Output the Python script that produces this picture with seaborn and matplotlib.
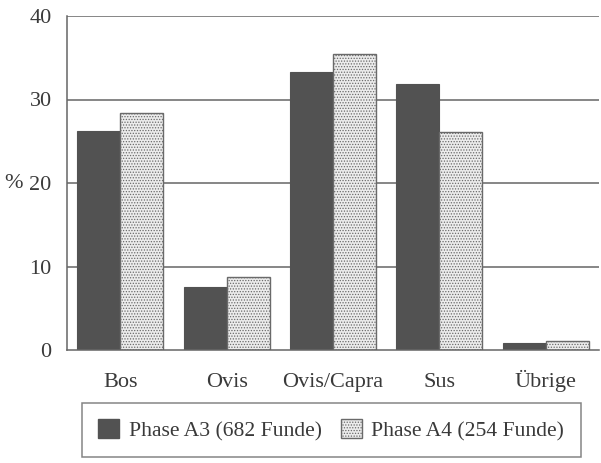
import matplotlib
matplotlib.use("Agg")
import matplotlib.pyplot as plt
import matplotlib.patches as mpatches
from matplotlib.ticker import FixedLocator
import seaborn as sns
import pandas as pd

categories = ["Bos", "Ovis", "Ovis/Capra", "Sus", "Übrige"]
phase_a3 = [26.2, 7.5, 33.3, 31.9, 0.85]
phase_a4 = [28.4, 8.7, 35.4, 26.1, 1.1]
series_names = ["Phase A3 (682 Funde)", "Phase A4 (254 Funde)"]
yticks = [0, 10, 20, 30, 40]

df = pd.DataFrame({
    "cat": categories * 2,
    "val": phase_a3 + phase_a4,
    "series": [series_names[0]] * len(categories) + [series_names[1]] * len(categories),
})

sns.set_style("white")
plt.rcParams["font.family"] = ["Liberation Serif", "DejaVu Serif"]
plt.rcParams["hatch.linewidth"] = 0.6

dark = "#525252"
light = "#ececec"
axcol = "#666666"
txtcol = "#3a3a3a"

fig = plt.figure(figsize=(6.01, 4.63), dpi=100)
ax = fig.add_axes([67 / 601, 1 - 350 / 463, 532 / 601, 334 / 463])

for y in yticks[1:]:
    ax.axhline(y, color=axcol, lw=1.1, zorder=0)

sns.barplot(data=df, x="cat", y="val", hue="series", order=categories,
            hue_order=series_names, palette=[dark, light], width=0.81,
            saturation=1, ax=ax, legend=False, zorder=2)

n = len(categories)
for i, p in enumerate(ax.patches):
    if i < n:
        p.set_facecolor(dark)
        p.set_edgecolor(dark)
        p.set_linewidth(0.8)
    else:
        p.set_facecolor(light)
        p.set_edgecolor("#6a6a6a")
        p.set_hatch("......")
        p.set_linewidth(1.0)

ax.set_xlim(-0.5, n - 0.5)
ax.set_ylim(0, 40)
ax.set_yticks(yticks)
ax.set_yticklabels([str(t) for t in yticks], fontsize=16, color=txtcol)
ax.tick_params(axis="y", length=5, width=1.1, color=axcol, direction="out", pad=6)
ax.tick_params(axis="x", which="major", length=0, pad=26.5, labelsize=16, labelcolor=txtcol)
for lab in ax.get_xticklabels():
    lab.set_verticalalignment("baseline")
ax.xaxis.set_minor_locator(FixedLocator([i + 0.5 for i in range(n)]))
ax.tick_params(axis="x", which="minor", length=10, width=1.1, color=axcol, direction="inout")
ax.set_xlabel("")
ax.set_ylabel("%", rotation=0, fontsize=16, color=txtcol, va="center", ha="center")
ax.yaxis.set_label_coords(-0.1, 0.5)

for s in ["top", "right"]:
    ax.spines[s].set_visible(False)
for s in ["left", "bottom"]:
    ax.spines[s].set_color(axcol)
    ax.spines[s].set_linewidth(1.1)

handles = [
    mpatches.Patch(facecolor=dark, edgecolor=dark, label=series_names[0]),
    mpatches.Patch(facecolor=light, edgecolor="#6a6a6a", hatch="......", label=series_names[1]),
]
leg = fig.legend(handles=handles, loc="upper left", bbox_to_anchor=(82 / 601, 1 - 403 / 463),
                 ncol=2, frameon=True, fancybox=False, fontsize=15.6,
                 handlelength=0.95, handleheight=0.95, handletextpad=0.45, columnspacing=0.9,
                 borderpad=0.75, borderaxespad=0)
leg.get_frame().set_edgecolor(axcol)
leg.get_frame().set_linewidth(1.1)
for t in leg.get_texts():
    t.set_color(txtcol)

fig.savefig("out.png", dpi=100)
